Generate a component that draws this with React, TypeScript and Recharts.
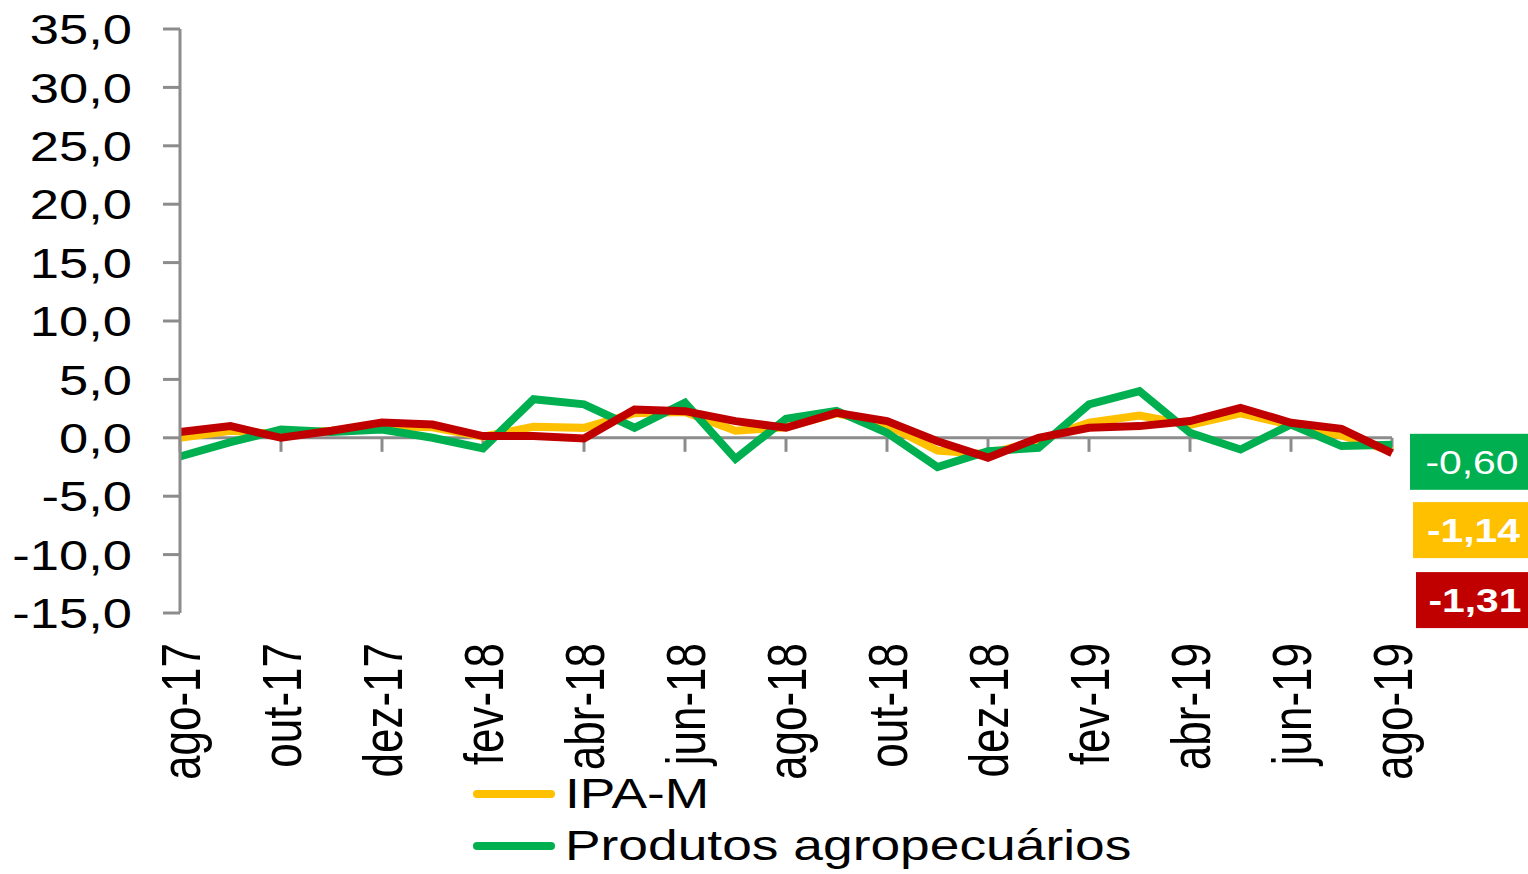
import { LineChart, Line, XAxis, YAxis, ReferenceLine, Legend, LabelList } from "recharts";

document.body.style.margin = "0";

const MONTHS = [
  "ago-17", "set-17", "out-17", "nov-17", "dez-17", "jan-18", "fev-18",
  "mar-18", "abr-18", "mai-18", "jun-18", "jul-18", "ago-18", "set-18",
  "out-18", "nov-18", "dez-18", "jan-19", "fev-19", "mar-19", "abr-19",
  "mai-19", "jun-19", "jul-19", "ago-19",
];

const IPA_M = [
  0.0, 0.6, 0.3, 0.6, 1.0, 0.9, 0.1, 0.95, 0.85, 2.1, 2.2, 0.6, 0.9, 2.1,
  1.1, -1.1, -1.4, -0.2, 1.3, 1.9, 1.1, 2.1, 1.1, 0.2, -1.14,
];

const AGRO = [
  -1.6, -0.38, 0.7, 0.5, 0.7, 0.0, -0.9, 3.3, 2.86, 0.86, 3.0, -1.8, 1.63,
  2.3, 0.43, -2.5, -1.14, -0.86, 2.86, 4.0, 0.43, -1.0, 1.14, -0.71, -0.6,
];

const INDUSTRIAIS = [
  0.5, 1.0, 0.0, 0.6, 1.3, 1.14, 0.15, 0.15, -0.06, 2.43, 2.28, 1.43, 0.86,
  2.14, 1.43, -0.29, -1.7, 0.0, 0.86, 1.0, 1.43, 2.57, 1.29, 0.77, -1.31,
];

const Y_TICKS = [-15, -10, -5, 0, 5, 10, 15, 20, 25, 30, 35];

const data = MONTHS.map((month, i) => ({
  month,
  ipa: IPA_M[i],
  agro: AGRO[i],
  ind: INDUSTRIAIS[i],
}));

const FONT = "'Liberation Sans', Arial, sans-serif";
const AXIS_GRAY = "#8c8c8c";
const STRETCH = 1.25;

const fmt1 = (v: number) => v.toFixed(1).replace(".", ",");
const fmt2 = (v: number) => v.toFixed(2).replace(".", ",");

function YTick({ x, y, payload }: any) {
  return (
    <g transform={`translate(${x},${y}) scale(${STRETCH},1)`}>
      <text textAnchor="end" dy="0.36em" fontSize={42} fill="#000" fontFamily={FONT}>
        {fmt1(payload.value)}
      </text>
    </g>
  );
}

function XTick({ x, y, payload }: any) {
  return (
    <g transform={`translate(${x},${y}) scale(${STRETCH},1)`}>
      <text transform="rotate(-90)" textAnchor="end" dy="0.36em" fontSize={44} fill="#000" fontFamily={FONT}>
        {payload.value}
      </text>
    </g>
  );
}

// boxed value at the end of each series
function endLabel(color: string, dx: number, dy: number, width: number, bold: boolean) {
  return (props: any) => {
    const { x, y, index, value } = props;
    if (index !== MONTHS.length - 1) return null;
    return (
      <g>
        <rect x={x + dx} y={y + dy} width={width} height={56} fill={color} />
        <g transform={`translate(${x + dx + width / 2 + 3},${y + dy + 28}) scale(1.2,1)`}>
          <text
            textAnchor="middle"
            dy="0.36em"
            fontSize={34}
            fontWeight={bold ? 700 : 400}
            fill="#fff"
            fontFamily={FONT}
          >
            {fmt2(value)}
          </text>
        </g>
      </g>
    );
  };
}

function LegendContent({ payload }: any) {
  return (
    <div style={{ fontFamily: FONT, fontSize: 42, lineHeight: "52px", color: "#000" }}>
      {(payload || []).map((item: any) => (
        <div key={item.value} style={{ display: "flex", alignItems: "center", whiteSpace: "nowrap" }}>
          <div style={{ width: 82, height: 8, borderRadius: 4, background: item.color, marginRight: 10 }} />
          <span style={{ display: "inline-block", transform: "scaleX(1.27)", transformOrigin: "left center" }}>
            {item.value}
          </span>
        </div>
      ))}
    </div>
  );
}

export default function App() {
  return (
    <div style={{ width: 1528, height: 874, background: "#fff", overflow: "hidden", position: "relative" }}>
      <LineChart
        width={1528}
        height={874}
        data={data}
        margin={{ top: 29, right: 136, bottom: 81, left: 0 }}
      >
        <XAxis
          dataKey="month"
          interval={1}
          axisLine={false}
          tickLine={false}
          tickSize={0}
          tickMargin={30}
          height={180}
          tick={<XTick />}
        />
        <YAxis
          domain={[-15, 35]}
          ticks={Y_TICKS}
          width={180}
          tickSize={17}
          tickMargin={31}
          axisLine={{ stroke: AXIS_GRAY, strokeWidth: 3 }}
          tickLine={{ stroke: AXIS_GRAY, strokeWidth: 3 }}
          tick={<YTick />}
        />
        <ReferenceLine y={0} stroke={AXIS_GRAY} strokeWidth={3} />
        {MONTHS.filter((_, i) => i % 2 === 0).map((m) => (
          <ReferenceLine
            key={m}
            segment={[{ x: m, y: 0 }, { x: m, y: -1.2 }]}
            stroke={AXIS_GRAY}
            strokeWidth={3}
          />
        ))}
        <Legend
          layout="horizontal"
          verticalAlign="middle"
          align="center"
          content={<LegendContent />}
          wrapperStyle={{ left: 473, top: 768, width: 900 }}
        />
        <Line
          name="IPA-M"
          dataKey="ipa"
          stroke="#FFC000"
          strokeWidth={8}
          dot={false}
          activeDot={false}
          isAnimationActive={false}
        >
          <LabelList dataKey="ipa" content={endLabel("#FFC000", 21, 51, 115, true)} />
        </Line>
        <Line
          name="Produtos agropecuários"
          dataKey="agro"
          stroke="#00B050"
          strokeWidth={8}
          dot={false}
          activeDot={false}
          isAnimationActive={false}
        >
          <LabelList dataKey="agro" content={endLabel("#00B050", 18, -11, 118, false)} />
        </Line>
        <Line
          name="Produtos industriais"
          dataKey="ind"
          stroke="#C00000"
          strokeWidth={8}
          dot={false}
          activeDot={false}
          legendType="none"
          isAnimationActive={false}
        >
          <LabelList dataKey="ind" content={endLabel("#C00000", 24, 119, 112, true)} />
        </Line>
      </LineChart>
    </div>
  );
}
